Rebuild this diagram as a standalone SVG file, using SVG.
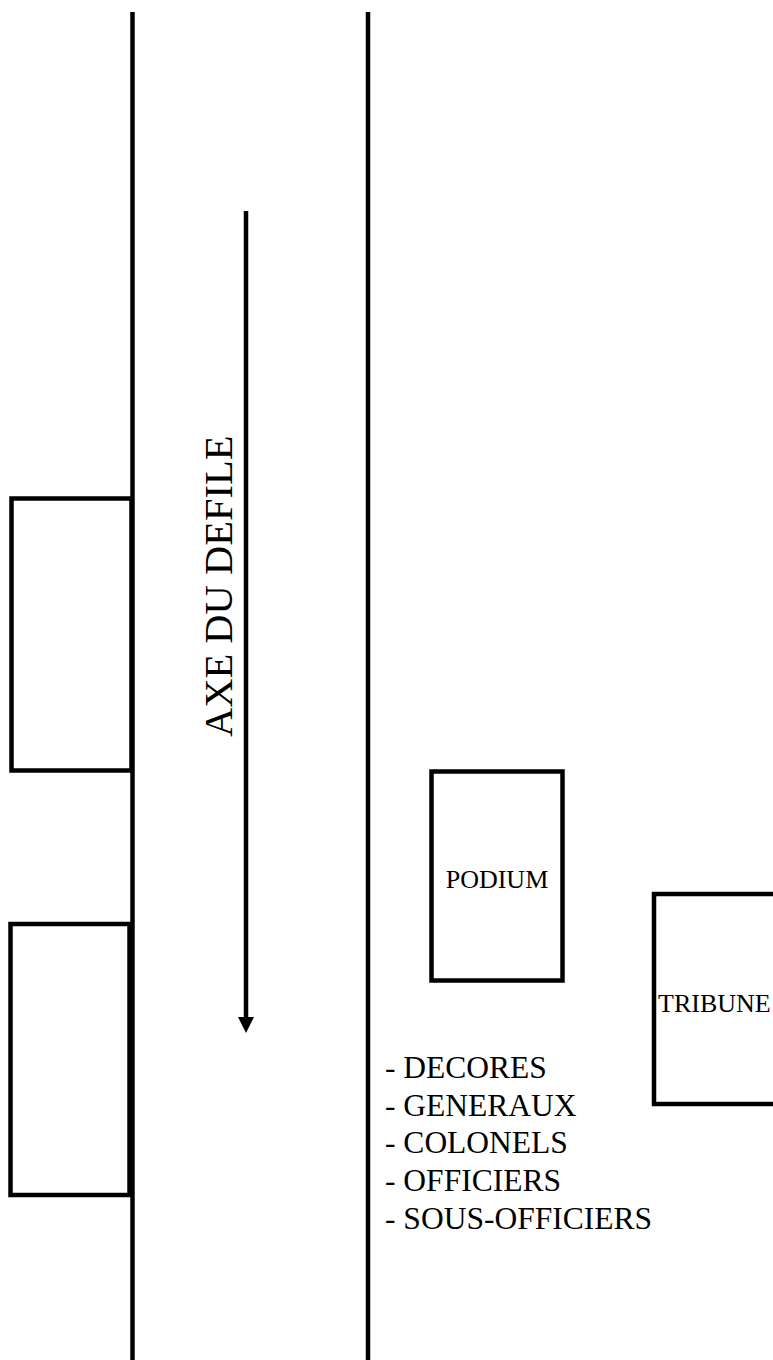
<svg xmlns="http://www.w3.org/2000/svg" width="773" height="1360" viewBox="0 0 773 1360">
<style>
.ln{stroke:#000;stroke-width:4.5;fill:none}
.bx{stroke:#000;stroke-width:4.5;fill:#fff}
.t{font-family:"Liberation Serif","Times New Roman",serif;fill:#000}
</style>
<rect width="773" height="1360" fill="#fff"/>
<g id="stands-left-1"><rect class="bx" x="11.5" y="498.5" width="120" height="272"/></g>
<g id="stands-left-2"><rect class="bx" x="10.5" y="924" width="119" height="271"/></g>
<g id="route">
<line class="ln" x1="132.5" y1="12" x2="132.5" y2="1360"/>
<line class="ln" x1="368" y1="12" x2="368" y2="1360"/>
</g>
<g id="axe">
<line class="ln" x1="246" y1="211" x2="246" y2="1019"/>
<polygon points="238,1017 254,1017 246,1033" fill="#000"/>
<text class="t" font-family="Liberation Serif, serif" font-size="40.5" transform="translate(232,737) rotate(-90)">AXE DU DEFILE</text>
</g>
<g id="podium">
<rect class="bx" x="431.5" y="771.5" width="131" height="209"/>
<text class="t" font-family="Liberation Serif, serif" font-size="26" x="497" y="888" text-anchor="middle">PODIUM</text>
</g>
<g id="tribune">
<rect class="bx" x="654" y="894" width="200" height="210"/>
<text class="t" font-family="Liberation Serif, serif" font-size="26" x="658" y="1012">TRIBUNE</text>
</g>
<g id="list" font-family="Liberation Serif, serif">
<text class="t" font-size="31.5" x="385" y="1078">- DECORES</text>
<text class="t" font-size="31.5" x="385" y="1116">- GENERAUX</text>
<text class="t" font-size="31.5" x="385" y="1153">- COLONELS</text>
<text class="t" font-size="31.5" x="385" y="1191">- OFFICIERS</text>
<text class="t" font-size="31.5" x="385" y="1229">- SOUS-OFFICIERS</text>
</g>
</svg>
